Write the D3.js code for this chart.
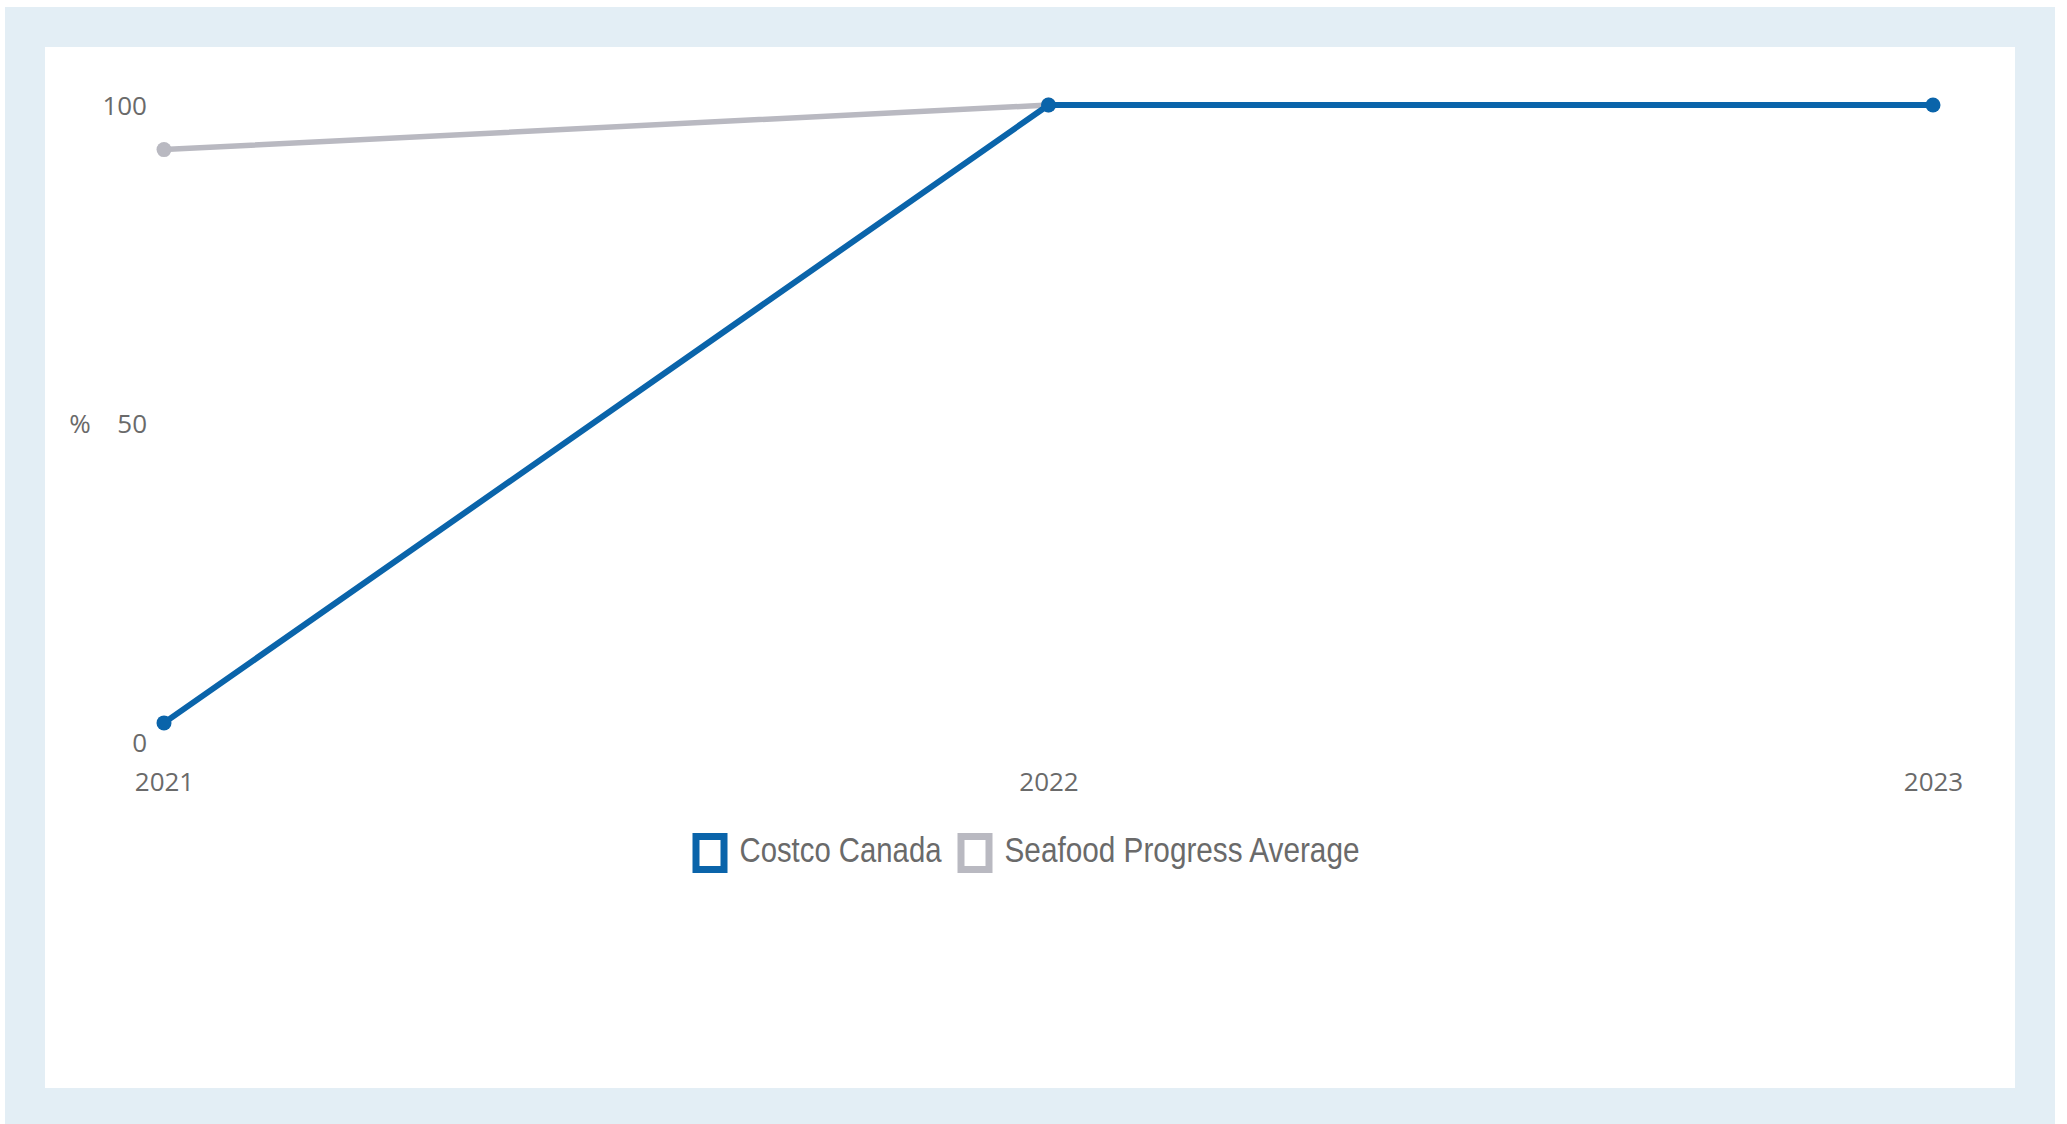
<!DOCTYPE html>
<html>
<head>
<meta charset="utf-8">
<script src="https://cdn.jsdelivr.net/npm/d3@7"></script>
<style>
  html, body { margin: 0; padding: 0; background: #ffffff; }
  svg { display: block; }
</style>
</head>
<body>
<svg id="chart" width="2067" height="1124"></svg>
<script>
// ---- data ----
const years = ["2021", "2022", "2023"];
const costcoCanada = [3, 100, 100];
const seafoodAverage = [93, 100, null];
const yTicks = [0, 50, 100];
const seriesNames = ["Costco Canada", "Seafood Progress Average"];
const yAxisLabel = "%";

// ---- layout ----
const W = 2067, H = 1124;
const blue = "#0a64aa";
const gray = "#b9b9c1";
const textColor = "#6a6a6a";
const tickFont = "'Open Sans', 'Noto Sans', sans-serif";
const legendFont = "'Liberation Sans Narrow', 'Liberation Sans', sans-serif";

const svg = d3.select("#chart");

// frame
svg.append("rect").attr("x", 0).attr("y", 0).attr("width", W).attr("height", H).attr("fill", "#ffffff");
svg.append("rect").attr("x", 5).attr("y", 7).attr("width", 2050).attr("height", H - 7).attr("fill", "#e3eef5");
svg.append("rect").attr("x", 45).attr("y", 47).attr("width", 1970).attr("height", 1041).attr("fill", "#ffffff");

const x = d3.scalePoint().domain(years).range([164, 1933]);
const y = d3.scaleLinear().domain([0, 100]).range([742, 105]);

// y axis (labels only)
const yAxis = d3.axisLeft(y).tickValues(yTicks).tickSize(0).tickPadding(0).tickFormat(d3.format("d"));
const gy = svg.append("g").attr("transform", "translate(147,0)").call(yAxis);
gy.select(".domain").remove();
gy.selectAll("text")
  .attr("fill", textColor)
  .attr("font-family", tickFont)
  .attr("font-size", 26)
  .attr("dy", "0.36em");

svg.append("text")
  .attr("x", 80).attr("y", y(50))
  .attr("dy", "0.36em")
  .attr("text-anchor", "middle")
  .attr("fill", textColor)
  .attr("font-family", tickFont)
  .attr("font-size", 26)
  .text(yAxisLabel);

// x axis (labels only)
const xAxis = d3.axisBottom(x).tickSize(0).tickPadding(0);
const gx = svg.append("g").attr("transform", "translate(0,782)").call(xAxis);
gx.select(".domain").remove();
gx.selectAll("text")
  .attr("fill", textColor)
  .attr("font-family", tickFont)
  .attr("font-size", 26)
  .attr("y", 0)
  .attr("dy", "0.36em");

// lines
function drawSeries(values, color, width) {
  const pts = years.map((yr, i) => ({ yr, v: values[i] }));
  const line = d3.line()
    .defined(d => d.v !== null)
    .x(d => x(d.yr))
    .y(d => y(d.v));
  svg.append("path")
    .datum(pts)
    .attr("d", line)
    .attr("fill", "none")
    .attr("stroke", color)
    .attr("stroke-width", width)
    .attr("stroke-linejoin", "round")
    .attr("stroke-linecap", "round");
  svg.append("g").selectAll("circle")
    .data(pts.filter(d => d.v !== null))
    .join("circle")
    .attr("cx", d => x(d.yr))
    .attr("cy", d => y(d.v))
    .attr("r", 7.5)
    .attr("fill", color);
}
drawSeries(seafoodAverage, gray, 5.5);
drawSeries(costcoCanada, blue, 6);

// legend
const legendColors = [blue, gray];
const legendTextWidths = [202, 355];
const sq = 35, gapAfterSq = 12, gapBetween = 16;
const legend = svg.append("g");
const items = legend.selectAll("g").data(seriesNames).join("g");
let totalW = 0;
const offsets = [];
seriesNames.forEach((n, i) => {
  offsets.push(totalW);
  totalW += sq + gapAfterSq + legendTextWidths[i] + (i < seriesNames.length - 1 ? gapBetween : 0);
});
const startX = 1026 - totalW / 2;
items.attr("transform", (d, i) => `translate(${startX + offsets[i]},0)`);
items.append("rect")
  .attr("x", 3.5).attr("y", 836.5)
  .attr("width", sq - 7).attr("height", 33)
  .attr("fill", "#ffffff")
  .attr("stroke", (d, i) => legendColors[i])
  .attr("stroke-width", 7);
items.append("text")
  .attr("x", sq + gapAfterSq)
  .attr("y", 862)
  .attr("fill", textColor)
  .attr("font-family", legendFont)
  .attr("font-size", 35)
  .attr("textLength", (d, i) => legendTextWidths[i])
  .attr("lengthAdjust", "spacingAndGlyphs")
  .text(d => d);
</script>
</body>
</html>
